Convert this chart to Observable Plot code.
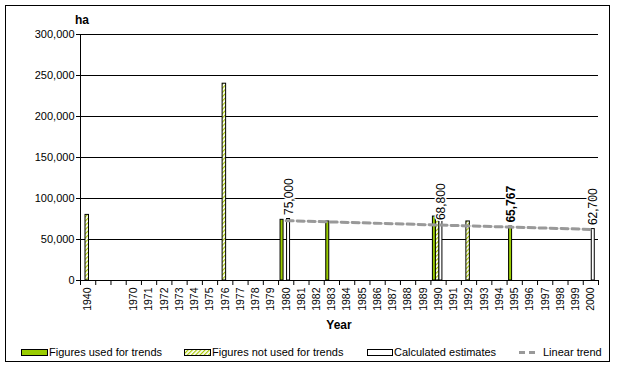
<!DOCTYPE html>
<html><head><meta charset="utf-8">
<script src="https://cdn.jsdelivr.net/npm/d3@7"></script>
<script src="https://cdn.jsdelivr.net/npm/@observablehq/plot@0.6"></script>
<style>
body{margin:0;background:#fff;font-family:"Liberation Sans",Arial,sans-serif;}
#wrap{position:relative;width:618px;height:367px;overflow:hidden;background:#fff;}
#border{position:absolute;left:5px;top:5px;width:605px;height:357px;border:1px solid #000;box-sizing:border-box;}
#chart{position:absolute;left:0;top:0;}
.t{position:absolute;font-size:12px;font-weight:bold;line-height:14px;white-space:nowrap;}
.leg{position:absolute;top:346px;font-size:11px;line-height:13px;white-space:nowrap;}
.sw{position:absolute;top:349px;}
</style></head>
<body>
<div id="wrap">
  <div id="border"></div>
  <div id="chart"></div>
  <div class="t" style="left:75px;top:13px;">ha</div>
  <div class="t" style="left:339px;top:318px;transform:translateX(-50%);">Year</div>
  <svg class="sw" style="left:21px" width="28" height="8"><rect x="0.5" y="0.5" width="26" height="6" fill="#99cc00" stroke="#000"/></svg>
  <div class="leg" style="left:49px">Figures used for trends</div>
  <svg class="sw" style="left:184px" width="28" height="8"><defs><pattern id="hatchL" width="3" height="3" patternUnits="userSpaceOnUse" patternTransform="rotate(45)"><rect width="3" height="3" fill="#fff"/><rect width="1.2" height="3" fill="#a8c800"/></pattern></defs><rect x="0.5" y="0.5" width="26" height="6" fill="url(#hatchL)" stroke="#000"/></svg>
  <div class="leg" style="left:212px">Figures not used for trends</div>
  <svg class="sw" style="left:367px" width="28" height="8"><rect x="0.5" y="0.5" width="25" height="6" fill="#fff" stroke="#000"/></svg>
  <div class="leg" style="left:394px">Calculated estimates</div>
  <svg class="sw" style="left:519px" width="22" height="8"><line x1="0" x2="20" y1="3.5" y2="3.5" stroke="#999" stroke-width="3" stroke-dasharray="6,4"/></svg>
  <div class="leg" style="left:543px">Linear trend</div>
</div>
<script>
// Categories on the x axis (two unlabeled gaps between 1940 and 1970)
const categories = ["1940", "", " ", "1970", "1971", "1972", "1973", "1974", "1975", "1976", "1977", "1978", "1979", "1980",
  "1981", "1982", "1983", "1984", "1985", "1986", "1987", "1988", "1989", "1990", "1991", "1992", "1993", "1994",
  "1995", "1996", "1997", "1998", "1999", "2000"];
const yTicks = [0, 50000, 100000, 150000, 200000, 250000, 300000];

// Figures used for trends
const usedYears = ["1980", "1983", "1990", "1995"];
const usedValues = [74000, 72000, 78000, 65767];
// Figures not used for trends
const notUsedYears = ["1940", "1976", "1990", "1992"];
const notUsedValues = [80000, 240000, 79000, 72000];
// Calculated estimates
const estYears = ["1980", "1990", "2000"];
const estValues = [75000, 78500, 62700];
// Linear trend end points
const trendYears = ["1980", "2000"];
const trendValues = [73000, 62300];
// Data labels
const labelYears = ["1980", "1990", "1995", "2000"];
const labelValues = [75000, 68800, 65767, 62700];
const labelSeries = ["estimate", "estimate", "used", "estimate"];

const toRows = (ys, vs) => ys.map((y, i) => ({year: y, value: vs[i]}));
const used = toRows(usedYears, usedValues);
const notUsed = toRows(notUsedYears, notUsedValues);
const est = toRows(estYears, estValues);
const trend = toRows(trendYears, trendValues);
const fmt = d3.format(",");
const labels = labelYears.map((y, i) => ({year: y, value: labelValues[i], text: fmt(labelValues[i]), series: labelSeries[i]}));

const W = 618, H = 335, ML = 80, MR = 20, MT = 34, MB = 55;
const bw = (W - ML - MR) / categories.length;

const chart = Plot.plot({
  width: W, height: H, marginLeft: ML, marginRight: MR, marginTop: MT, marginBottom: MB,
  style: {fontFamily: '"Liberation Sans", Arial, sans-serif', fontSize: "11px", background: "transparent", color: "#000"},
  x: {type: "band", domain: categories, padding: 0, round: false, label: null},
  y: {domain: [0, 300000], label: null},
  marks: [
    Plot.gridY(yTicks, {stroke: "#000", strokeOpacity: 1}),
    Plot.axisY(yTicks, {tickFormat: fmt, tickSize: 4, tickPadding: 2, fontSize: 11, label: null}),
    Plot.axisX({tickSize: 0, tickPadding: 7, tickRotate: -90, fontSize: 10.5, label: null}),
    Plot.axisX({tickSize: 5, tickFormat: () => "", dx: -bw / 2, label: null}),
    Plot.axisX([categories[categories.length - 1]], {tickSize: 5, tickFormat: () => "", dx: bw / 2, label: null}),
    Plot.ruleX([categories[0]], {dx: -bw / 2, stroke: "#000"}),
    Plot.ruleY([0], {stroke: "#000"}),
    Plot.barY(used, {x: "year", y: "value", fill: "#99cc00", stroke: "#000", insetLeft: 2, insetRight: bw - 5}),
    Plot.barY(notUsed, {x: "year", y: "value", fill: "url(#hatch)", stroke: "#000", insetLeft: 5, insetRight: bw - 8.5}),
    Plot.barY(est, {x: "year", y: "value", fill: "#fff", stroke: "#000", insetLeft: 8.5, insetRight: bw - 11.5}),
    Plot.lineY(trend, {x: "year", y: "value", stroke: "#999", strokeWidth: 3, strokeDasharray: "7,4"}),
    Plot.text(labels.filter(d => d.series === "estimate"), {x: "year", y: "value", text: "text", rotate: -90, textAnchor: "start",
      dy: -4, dx: 2.5, fontSize: 12, fill: "#000", stroke: "#fff", strokeWidth: 3, paintOrder: "stroke"}),
    Plot.text(labels.filter(d => d.series === "used"), {x: "year", y: "value", text: "text", rotate: -90, textAnchor: "start",
      dy: -4, dx: -4, fontSize: 12, fontWeight: "bold", fill: "#000", stroke: "#fff", strokeWidth: 3, paintOrder: "stroke"})
  ]
});

const ns = "http://www.w3.org/2000/svg";
const defs = document.createElementNS(ns, "defs");
defs.innerHTML = '<pattern id="hatch" width="3" height="3" patternUnits="userSpaceOnUse" patternTransform="rotate(45)"><rect width="3" height="3" fill="#fff"/><rect width="1.2" height="3" fill="#a8c800"/></pattern>';
chart.insertBefore(defs, chart.firstChild);
document.getElementById("chart").appendChild(chart);
</script>
</body></html>
